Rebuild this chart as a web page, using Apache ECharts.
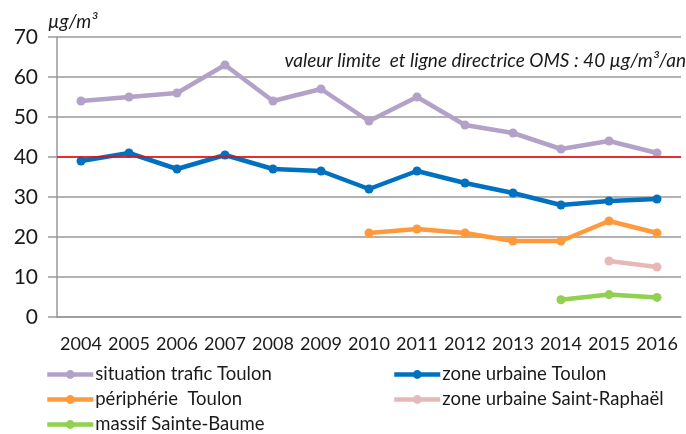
<!DOCTYPE html>
<html>
<head>
<meta charset="utf-8">
<script src="https://cdn.jsdelivr.net/npm/echarts@6/dist/echarts.min.js"></script>
<style>
  html, body { margin: 0; padding: 0; background: #fff; }
  #chart { width: 686px; height: 434px; }
</style>
</head>
<body>
<div id="chart"></div>
<script>
// données NO2 (µg/m3)
const years = ['2004', '2005', '2006', '2007', '2008', '2009', '2010', '2011', '2012', '2013', '2014', '2015', '2016'];
const traficToulon = [54, 55, 56, 63, 54, 57, 49, 55, 48, 46, 42, 44, 41];
const urbaineToulon = [39, 41, 37, 40.5, 37, 36.5, 32, 36.5, 33.5, 31, 28, 29, 29.5];
const peripherieToulon = [null, null, null, null, null, null, 21, 22, 21, 19, 19, 24, 21];
const urbaineStRaphael = [null, null, null, null, null, null, null, null, null, null, null, 14, 12.5];
const massifSteBaume = [null, null, null, null, null, null, null, null, null, null, 4.3, 5.6, 4.9];
const valeurLimite = 40;

const font = 'Lato';
let chart = echarts.init(document.getElementById('chart'));

function lineSerie(name, data, color) {
  return {
    name: name,
    type: 'line',
    data: data,
    symbol: 'circle',
    symbolSize: 9,
    itemStyle: {color: color},
    lineStyle: {color: color, width: 4.5},
    animation: false
  };
}

let series = [
  lineSerie('situation trafic Toulon', traficToulon, '#B3A2C7'),
  lineSerie('zone urbaine Toulon', urbaineToulon, '#0070C0'),
  lineSerie('périphérie  Toulon', peripherieToulon, '#FF9A3C'),
  lineSerie('zone urbaine Saint-Raphaël', urbaineStRaphael, '#E6B9B8'),
  lineSerie('massif Sainte-Baume', massifSteBaume, '#92D050')
];
// ligne rouge de la valeur limite
series[0].markLine = {
  silent: true,
  symbol: 'none',
  label: {show: false},
  lineStyle: {color: '#FF0000', width: 1.5, type: 'solid'},
  data: [{yAxis: valeurLimite}]
};

// une légende par entrée, placées en deux colonnes
function legendItem(name, left, top) {
  return {
    left: left, top: top,
    padding: 0,
    itemWidth: 46, itemHeight: 11, itemGap: 0,
    lineStyle: {width: 4.5},
    textStyle: {fontFamily: font, fontSize: 18.5, color: '#1a1a1a', padding: [0, 0, 0, -3]},
    data: [name]
  };
}

chart.setOption({
  animation: false,
  grid: {left: 57, right: 5, top: 37, bottom: 117},
  title: [
    {
      text: 'µg/m³',
      left: 43, top: 7,
      textStyle: {fontFamily: font, fontSize: 19, fontStyle: 'italic', fontWeight: 'normal', color: '#1a1a1a'}
    },
    {
      text: 'valeur limite  et ligne directrice OMS : 40 µg/m³/an',
      right: -5, top: 46,
      textStyle: {fontFamily: font, fontSize: 19, fontStyle: 'italic', fontWeight: 'normal', color: '#1a1a1a'}
    }
  ],
  legend: [
    legendItem('situation trafic Toulon', 45, 365),
    legendItem('périphérie  Toulon', 45, 390),
    legendItem('massif Sainte-Baume', 45, 415),
    legendItem('zone urbaine Toulon', 392, 365),
    legendItem('zone urbaine Saint-Raphaël', 392, 390)
  ],
  xAxis: {
    type: 'category',
    data: years,
    boundaryGap: true,
    axisLine: {lineStyle: {color: '#999', width: 1.5}},
    axisTick: {length: 7, lineStyle: {color: '#999', width: 1.5}},
    axisLabel: {fontFamily: font, fontSize: 18, color: '#1a1a1a', margin: 18, interval: 0}
  },
  yAxis: {
    type: 'value',
    min: 0, max: 70, interval: 10,
    axisLine: {show: true, lineStyle: {color: '#999', width: 1.5}},
    axisTick: {show: true, length: 9, lineStyle: {color: '#999', width: 1.5}},
    splitLine: {lineStyle: {color: '#999', width: 1.5}},
    axisLabel: {fontFamily: font, fontSize: 21, color: '#1a1a1a', margin: 19}
  },
  series: series
});
</script>
</body>
</html>
